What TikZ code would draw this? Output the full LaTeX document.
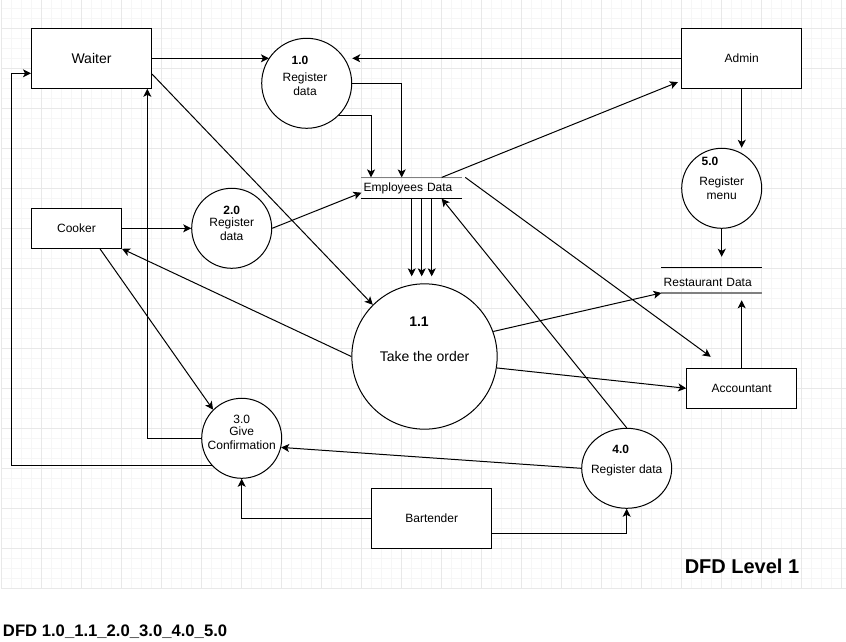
\documentclass[tikz,border=0pt]{standalone}
\usepackage{fontspec}
\setmainfont{Liberation Sans}
\usetikzlibrary{calc,arrows.meta,shapes.geometric}
\definecolor{gridmajor}{HTML}{E8E8E8}
\definecolor{gridminor}{HTML}{F6F6F6}
\definecolor{storeline}{HTML}{808080}
\tikzset{
	entity/.style={draw, fill=white, line width=0.75pt, minimum width=90pt, minimum height=45pt, inner sep=0pt, font=\fontsize{9}{10.8}\selectfont},
	process/.style={draw, fill=white, circle, line width=0.75pt, inner sep=0pt, minimum size=60pt},
	ptext/.style={align=center, inner sep=0pt, font=\fontsize{9}{10.5}\selectfont},
	store/.style={minimum width=75pt, text width=72pt, align=left, inner xsep=1.5pt, inner ysep=0pt, font=\fontsize{9}{10.8}\selectfont},
	flow/.style={line width=0.75pt, -{Stealth[length=6pt,width=6pt,inset=1.5pt]}},
}

\begin{document}
\begin{tikzpicture}[x=0.75pt,y=-0.75pt]
		%%%%% START %%%%%
		\useasboundingbox (0,0) rectangle (846,642);
		
		% grid
		\foreach \k in {0,...,84} \draw[gridminor, line width=0.75pt] (1.5+10*\k,0) -- (1.5+10*\k,588.5);
		\foreach \k in {-2,...,56} \draw[gridminor, line width=0.75pt] (1.5,28.5+10*\k) -- (846,28.5+10*\k);
		\foreach \k in {0,4,...,84} \draw[gridmajor, line width=0.75pt] (1.5+10*\k,0) -- (1.5+10*\k,588.5);
		\foreach \k in {0,4,...,56} \draw[gridmajor, line width=0.75pt] (1.5,28.5+10*\k) -- (846,28.5+10*\k);
		
		% entities
		\node[entity, font=\fontsize{10.5}{12.6}\selectfont] (waiter) at (91.5,58.3) {Waiter};
		\node[entity, minimum width=67.5pt, minimum height=30pt] (cooker) at (76.5,228.3) {Cooker};
		\node[entity] (admin) at (741.7,58.3) {Admin};
		\node[entity, minimum width=82.5pt, minimum height=30pt] (acct) at (741.7,388.3) {Accountant};
		\node[entity] (bart) at (431.7,518.3) {Bartender};
		
		% processes
		\node[process, minimum size=67.5pt] (p1) at (306.7,83.3) {};
		\node[ptext] (p1txt) at (305,75.5) {\textbf{1.0}\rule{7.5pt}{0pt}\\[2.25pt]Register\\data};
		\node[process] (p2) at (231.7,228.3) {};
		\node[ptext] (p2txt) at (231.7,223) {\textbf{2.0}\\[-1.5pt]Register\\data};
		\node[process] (p5) at (721.7,188.3) {};
		\node[ptext] (p5txt) at (721.7,178.7) {\textbf{5.0}\rule{17.5pt}{0pt}\\[4.5pt]Register\\menu};
		\node[process, minimum size=109pt] (p11) at (424.5,356.5) {};
		\node[ptext, font=\fontsize{10.5}{12.6}\selectfont] (p11txt) at (424.5,339.5) {\textbf{1.1}\rule{8.25pt}{0pt}\\[13.65pt]Take the order};
		\node[process] (p3) at (241.7,438.3) {};
		\node[ptext] (p3txt) at (241.7,432.7) {3.0\\[-1.5pt]Give\\Confirmation};
		\node[process, ellipse, minimum width=67.5pt, minimum height=60pt] (p4) at (626.7,468.3) {};
		\node[ptext] (p4txt) at (626.7,460.4) {\textbf{4.0}\rule{9pt}{0pt}\\[4.3pt]Register data};
		
		% data stores
		\node[store, minimum height=15.5pt] (emp) at (411.7,188) {Employees Data};
		\draw[line width=1.1pt, storeline] (emp.north west) -- (emp.north east);
		\draw[line width=0.75pt] (emp.south west) -- (emp.south east);
		\node[store, minimum height=19pt] (rest) at (711.7,280) {\raisebox{-2pt}[\height][\depth]{Restaurant Data}};
		\draw[line width=0.75pt] (rest.north west) -- (rest.north east);
		\draw[line width=1.1pt, storeline] (rest.south west) -- (rest.south east);
		
		% flows
		\draw[flow] (waiter.east) -- (p1.146 |- waiter.east);
		\draw[flow] (admin.west) -- (admin.west -| p1.east);
		\draw[flow] (p1.east) -| ([xshift=-7.5pt]emp.north);
		\draw[flow] (p1.-45) -| ([xshift=-30.5pt]emp.north);
		\draw[flow] (cooker.east) -- (p2.west);
		\draw[flow] (p2.east) -- ([yshift=-3.5pt]emp.west);
		\draw[flow] ([xshift=22.5pt]emp.north) -- ([xshift=-2.5pt,yshift=5pt]admin.south west);
		\draw[flow] (admin.south) -- (admin.south |- p5.north);
		\draw[flow] (p5.south) -- ([yshift=7.7pt]p5.south |- rest.north);
		\foreach \dx in {0,7.5,15} \draw[flow] ([xshift=\dx pt]emp.south) -- ([xshift=\dx pt,yshift=5.25pt]emp.south |- p11.north);
		\draw[flow] ([yshift=-11.8pt]waiter.east) -- (p11.135);
		\draw[flow] (p11.west) -- (cooker.south east);
		\draw[flow] ([xshift=17.6pt]cooker.south) -- (p3.135);
		\draw[flow] (p3.west) -| ([xshift=-3.5pt]waiter.south east);
		\draw[flow] (p3.223) -- ++(-200.7,0) |- ([yshift=-11.25pt]waiter.west);
		\draw[flow] (p4.west) -- (p3.-13);
		\draw[flow] (p4.north) -- ([xshift=22.5pt]emp.south);
		\draw[flow] (bart.west) -| (p3.south);
		\draw[flow] ([yshift=-11.25pt]bart.east) -| (p4.south);
		\draw[flow] ([xshift=2.5pt]emp.north east) -- ([xshift=-23.25pt,yshift=8.25pt]acct.north);
		\draw[flow] (p11.20) -- (rest.south west);
		\draw[flow] (p11.-9) -- (acct.west);
		\draw[flow] (acct.north) -- ([yshift=-5.5pt]acct.north |- rest.south);
		
		% titles
		\node[font=\fontsize{15}{18}\selectfont\bfseries] (level) at (742,566.5) {DFD Level 1};
		\node[anchor=west, inner sep=0pt, font=\fontsize{12.5}{15}\selectfont\bfseries] (dfdname) at (2.7,632) {DFD 1.0\_1.1\_2.0\_3.0\_4.0\_5.0};
		
		%%%%% END %%%%%
	\end{tikzpicture}
\end{document}
